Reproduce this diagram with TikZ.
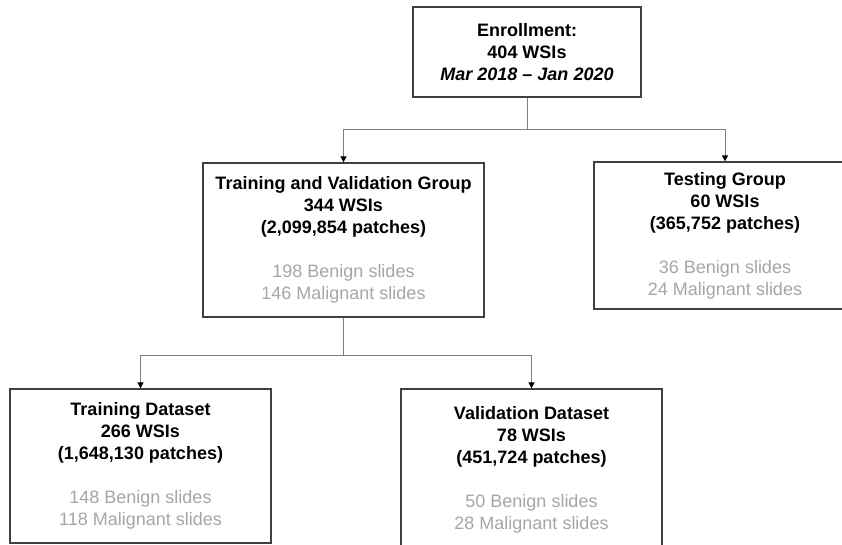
\documentclass[tikz,border=0pt]{standalone}
\usepackage{fontspec}
\setmainfont{Liberation Sans}
\usetikzlibrary{arrows.meta}
\definecolor{boxline}{HTML}{404040}
\definecolor{connline}{HTML}{808080}
\definecolor{subtext}{HTML}{A6A6A6}
\begin{document}
\begin{tikzpicture}[x=1pt,y=-1pt,
  box/.style={draw=boxline,line width=1.3pt,rectangle,align=center,inner sep=0pt,
    font=\fontsize{18}{22}\selectfont},
  conn/.style={draw=connline,line width=1pt},
  arr/.style={conn,-{Triangle[length=6pt,width=6pt,color=black]}}]
\useasboundingbox (0,0) rectangle (842,545);
\clip (0,0) rectangle (842,545);
\fill[white] (0,0) rectangle (842,545);
\node[box,minimum width=228pt,minimum height=90pt] (enr) at (527,52)
  {\textbf{Enrollment:}\\\textbf{404 WSIs}\\\textbf{\textit{Mar 2018 – Jan 2020}}};
\node[box,minimum width=281pt,minimum height=154pt] (tv) at (343.5,240)
  {\textbf{Training and Validation Group}\\\textbf{344 WSIs}\\\textbf{(2,099,854 patches)}\\[22pt]
   \textcolor{subtext}{198 Benign slides}\\\textcolor{subtext}{146 Malignant slides}};
\node[box,minimum width=262pt,minimum height=147pt] (test) at (725,235.5)
  {\textbf{Testing Group}\\\textbf{60 WSIs}\\\textbf{(365,752 patches)}\\[22pt]
   \textcolor{subtext}{36 Benign slides}\\\textcolor{subtext}{24 Malignant slides}};
\node[box,minimum width=261pt,minimum height=154pt] (train) at (140.5,466)
  {\textbf{Training Dataset}\\\textbf{266 WSIs}\\\textbf{(1,648,130 patches)}\\[22pt]
   \textcolor{subtext}{148 Benign slides}\\\textcolor{subtext}{118 Malignant slides}};
\node[box,minimum width=261pt,minimum height=161pt] (val) at (531.5,469.5)
  {\textbf{Validation Dataset}\\\textbf{78 WSIs}\\\textbf{(451,724 patches)}\\[22pt]
   \textcolor{subtext}{50 Benign slides}\\\textcolor{subtext}{28 Malignant slides}};
\coordinate (s1) at (527,130);
\coordinate (s2) at (343.5,355);
\draw[conn] (enr.south) -- (s1);
\draw[arr] (s1) -| (tv.north);
\draw[arr] (s1) -| (test.north);
\draw[conn] (tv.south) -- (s2);
\draw[arr] (s2) -| (train.north);
\draw[arr] (s2) -| (val.north);
\end{tikzpicture}
\end{document}
